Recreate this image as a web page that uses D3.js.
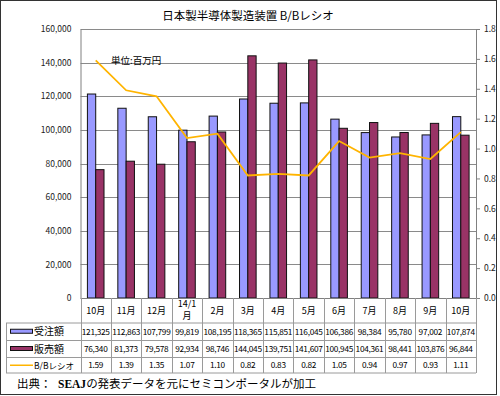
<!DOCTYPE html>
<html><head><meta charset="utf-8">
<script src="https://cdn.jsdelivr.net/npm/d3@7"></script>
<style>body{margin:0;background:#fff}svg{display:block}text{font-family:"Noto Sans CJK JP","DejaVu Sans",sans-serif}</style>
</head><body><svg id="c" width="500" height="396"></svg>
<script>
const months = ["10月","11月","12月","14/1|月","2月","3月","4月","5月","6月","7月","8月","9月","10月"];
const orders = [121325,112863,107799,99819,108195,118365,115851,116045,106386,98384,95780,97002,107874];
const sales = [76340,81373,79578,92934,98746,144045,139751,141607,100945,104361,98441,103876,96844];
const bb = [1.59,1.39,1.35,1.07,1.10,0.82,0.83,0.82,1.05,0.94,0.97,0.93,1.11];
const leftTicks = [0,20000,40000,60000,80000,100000,120000,140000,160000];
const rightTicks = [0,0.2,0.4,0.6,0.8,1.0,1.2,1.4,1.6,1.8];
const seriesNames = ["受注額","販売額","B/Bレシオ"];

const svg = d3.select("#c");
const x0=80.5, x1=476, yTop=29, yBot=298;
const x = d3.scaleBand().domain(d3.range(months.length)).range([x0,x1]).padding(0);
const yL = d3.scaleLinear().domain([0,160000]).range([yBot,yTop]);
const yR = d3.scaleLinear().domain([0,1.8]).range([yBot,yTop]);
const fmt = d3.format(",");
const blue="#9999ff", red="#993366", gold="#ffb400";

svg.append("rect").attr("x",0.5).attr("y",0.5).attr("width",496).attr("height",394).attr("fill","#fff").attr("stroke","#333");

svg.append("text").attr("x",248).attr("y",20).attr("text-anchor","middle").attr("font-size",11.5).text("日本製半導体製造装置 B/Bレシオ");

// gridlines
svg.append("g").selectAll("line").data(leftTicks.filter(d=>d>0)).join("line")
  .attr("x1",x0).attr("x2",x1).attr("y1",d=>Math.round(yL(d))+0.5).attr("y2",d=>Math.round(yL(d))+0.5)
  .attr("stroke","#8a8a8a").attr("stroke-width",1);

// left axis
const gl = svg.append("g").attr("transform",`translate(${x0},0)`)
  .call(d3.axisLeft(yL).tickValues(leftTicks).tickFormat(fmt).tickSize(0).tickPadding(9));
gl.select(".domain").attr("stroke","#808080");
gl.selectAll("text").attr("font-size",8.5).attr("font-family","Liberation Sans, Arial, sans-serif").attr("fill","#222");

// right axis
const gr = svg.append("g").attr("transform",`translate(${x1},0)`)
  .call(d3.axisRight(yR).tickValues(rightTicks).tickFormat(d3.format(".1f")).tickSize(4).tickPadding(4));
gr.select(".domain").attr("stroke","#808080");
gr.selectAll(".tick line").attr("stroke","#808080");
gr.selectAll("text").attr("font-size",8.5).attr("font-family","Liberation Sans, Arial, sans-serif").attr("fill","#222");

// bars
const bw = 8.3;
svg.append("g").selectAll("rect").data(orders).join("rect")
  .attr("x",(d,i)=>x(i)+x.bandwidth()/2-bw).attr("width",bw)
  .attr("y",d=>yL(d)).attr("height",d=>yBot-yL(d))
  .attr("fill",blue).attr("stroke","#111").attr("stroke-width",1);
svg.append("g").selectAll("rect").data(sales).join("rect")
  .attr("x",(d,i)=>x(i)+x.bandwidth()/2).attr("width",bw)
  .attr("y",d=>yL(d)).attr("height",d=>yBot-yL(d))
  .attr("fill",red).attr("stroke","#111").attr("stroke-width",1);

// bottom axis line
svg.append("line").attr("x1",x0).attr("x2",x1).attr("y1",yBot+0.5).attr("y2",yBot+0.5).attr("stroke","#808080");

// line
svg.append("path").datum(bb)
  .attr("d",d3.line().x((d,i)=>x(i)+x.bandwidth()/2).y(d=>yR(d)))
  .attr("fill","none").attr("stroke",gold).attr("stroke-width",1.8);

svg.append("text").attr("x",111).attr("y",64).attr("font-size",9.5).text("単位:百万円");

// table
const tg = svg.append("g");
const rowY = [298,323,340.5,357.5,373];
const tcol = "#9a9a9a";
const edges = d3.range(months.length+1).map(i=> i<months.length ? x(i) : x1);
tg.selectAll("line.v").data(edges).join("line")
  .attr("x1",d=>Math.round(d)+0.5).attr("x2",d=>Math.round(d)+0.5).attr("y1",yBot).attr("y2",rowY[4]).attr("stroke",tcol);
tg.selectAll("line.h").data(rowY.slice(1)).join("line")
  .attr("x1",6).attr("x2",x1).attr("y1",d=>d).attr("y2",d=>d).attr("stroke",tcol);
tg.append("line").attr("x1",6.5).attr("x2",6.5).attr("y1",rowY[1]).attr("y2",rowY[4]).attr("stroke",tcol);

months.forEach((m,i)=>{
  const cx = x(i)+x.bandwidth()/2;
  const parts = m.split("|");
  if(parts.length===1){
    tg.append("text").attr("x",cx).attr("y",314).attr("text-anchor","middle").attr("font-size",9).text(parts[0]);
  } else {
    tg.append("text").attr("x",cx).attr("y",307).attr("text-anchor","middle").attr("font-size",9).text(parts[0]);
    tg.append("text").attr("x",cx).attr("y",319).attr("text-anchor","middle").attr("font-size",9).text(parts[1]);
  }
});
const rows = [orders.map(fmt), sales.map(fmt), bb.map(d3.format(".2f"))];
rows.forEach((r,ri)=>{
  tg.selectAll(null).data(r).join("text")
    .attr("x",(d,i)=>x(i)+x.bandwidth()/2).attr("y",(rowY[ri+1]+rowY[ri+2])/2+3.2)
    .attr("text-anchor","middle").attr("font-size",8.3).attr("letter-spacing",-0.3)
    .attr("font-family","Liberation Sans, Arial, sans-serif").text(d=>d);
});
[0,1].forEach(ri=>{
  const cy=(rowY[ri+1]+rowY[ri+2])/2;
  tg.append("rect").attr("x",10.5).attr("y",cy-2.5).attr("width",22).attr("height",4)
    .attr("fill",ri===0?blue:red).attr("stroke","#111");
});
tg.append("line").attr("x1",10).attr("x2",33).attr("y1",(rowY[3]+rowY[4])/2).attr("y2",(rowY[3]+rowY[4])/2).attr("stroke",gold).attr("stroke-width",1.5);
seriesNames.forEach((s,ri)=>{
  tg.append("text").attr("x",34).attr("y",(rowY[ri+1]+rowY[ri+2])/2+3.5).attr("font-size",ri===2?8.5:10).text(s);
});

const src = svg.append("text").attr("y",388).attr("font-size",11.5);
src.append("tspan").attr("x",17).text("出典：");
src.append("tspan").attr("x",58).attr("font-family","Liberation Serif, serif").attr("font-weight","bold").text("SEAJ");
src.append("tspan").text("の発表データを元にセミコンポータルが加工");
</script></body></html>
